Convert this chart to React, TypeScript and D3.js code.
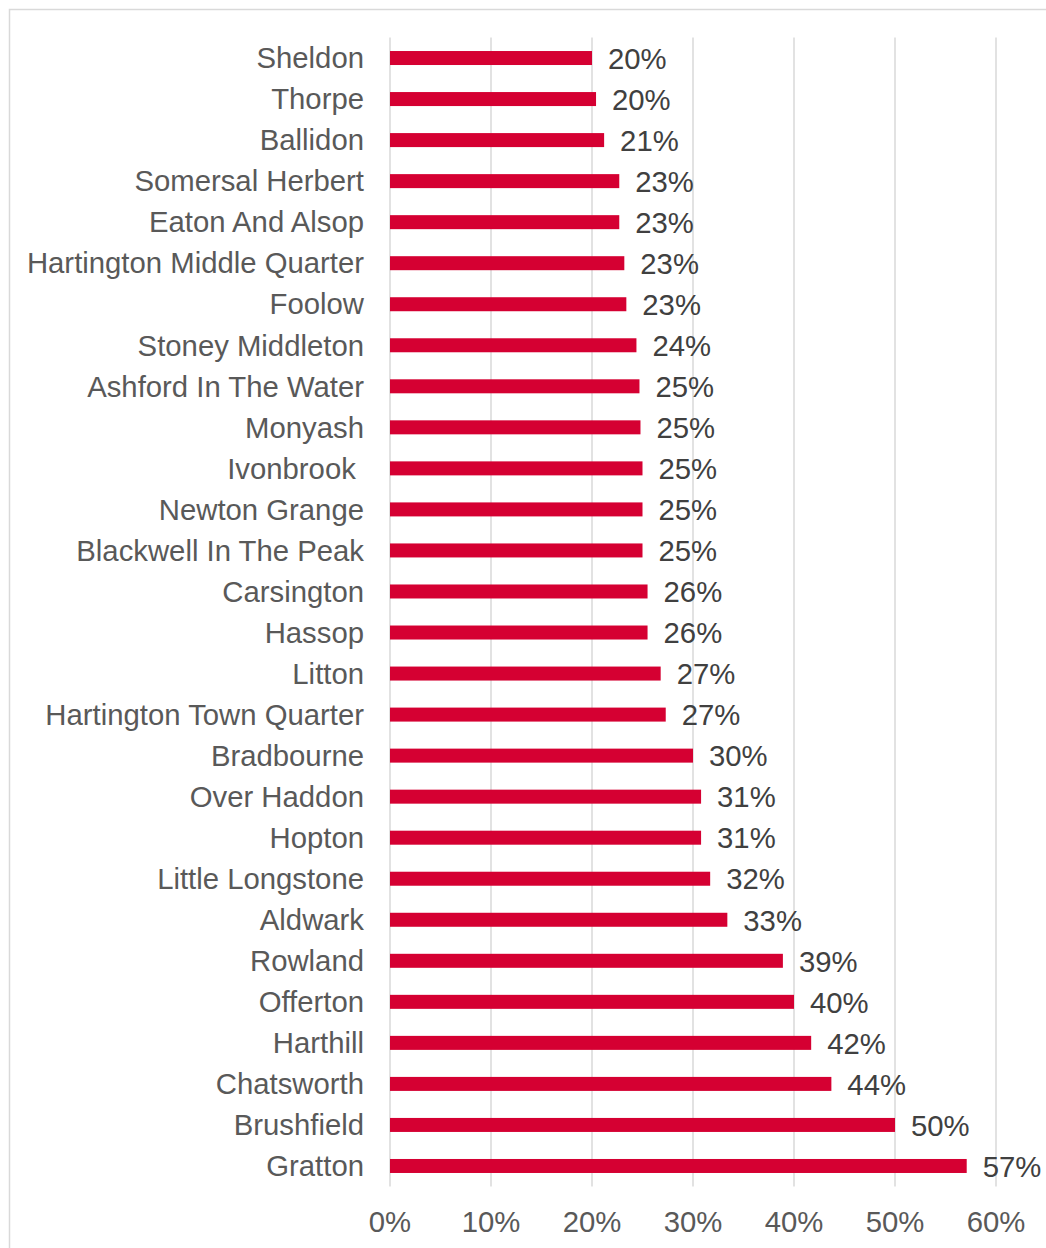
import React from "react";
import * as d3 from "d3";

const categories = [
  "Sheldon", "Thorpe", "Ballidon", "Somersal Herbert", "Eaton And Alsop",
  "Hartington Middle Quarter", "Foolow", "Stoney Middleton", "Ashford In The Water",
  "Monyash", "Ivonbrook ", "Newton Grange", "Blackwell In The Peak", "Carsington",
  "Hassop", "Litton", "Hartington Town Quarter", "Bradbourne", "Over Haddon",
  "Hopton", "Little Longstone", "Aldwark", "Rowland", "Offerton", "Harthill",
  "Chatsworth", "Brushfield", "Gratton",
];

const values = [
  0.200, 0.204, 0.212, 0.227, 0.227,
  0.232, 0.234, 0.244, 0.247,
  0.248, 0.250, 0.250, 0.250, 0.255,
  0.255, 0.268, 0.273, 0.300, 0.308,
  0.308, 0.317, 0.334, 0.389, 0.400, 0.417,
  0.437, 0.500, 0.571,
];

const xTicks = [0, 0.1, 0.2, 0.3, 0.4, 0.5, 0.6];

const FONT = "'Liberation Sans', Arial, sans-serif";
const FS = 29.3;

export default function App() {
  const x = d3.scaleLinear().domain([0, 0.6]).range([390, 996]);
  const y = d3.scaleBand<string>().domain(categories).range([37.5, 1186.5]).padding(0);
  const barH = 14;
  const fmt = d3.format(".0%");

  return (
    <svg
      width={1046}
      height={1248}
      style={{ position: "absolute", left: 0, top: 0, background: "#fff" }}
      fontFamily={FONT}
    >
      <rect x={9.5} y={9.5} width={1200} height={1400} fill="#fff" stroke="#d9d9d9" strokeWidth={1.5} />
      {xTicks.map((t) => (
        <line
          key={"g" + t}
          x1={x(t)}
          x2={x(t)}
          y1={37.5}
          y2={1186.5}
          stroke="#d9d9d9"
          strokeWidth={1.5}
        />
      ))}
      {categories.map((c, i) => {
        const cy = (y(c) as number) + y.bandwidth() / 2;
        return (
          <g key={c}>
            <rect
              x={x(0)}
              y={cy - barH / 2}
              width={x(values[i]) - x(0)}
              height={barH}
              fill="#d50032"
            />
            <text
              x={364}
              y={cy}
              dy="0.35em"
              textAnchor="end"
              fontSize={FS}
              fill="#595959"
              style={{ whiteSpace: "pre" }}
            >
              {c}
            </text>
            <text
              x={x(values[i]) + 16}
              y={cy + 0.5}
              dy="0.35em"
              textAnchor="start"
              fontSize={FS}
              fill="#404040"
            >
              {fmt(values[i])}
            </text>
          </g>
        );
      })}
      {xTicks.map((t) => (
        <text
          key={"t" + t}
          x={x(t)}
          y={1232}
          textAnchor="middle"
          fontSize={FS}
          fill="#595959"
        >
          {fmt(t)}
        </text>
      ))}
    </svg>
  );
}
